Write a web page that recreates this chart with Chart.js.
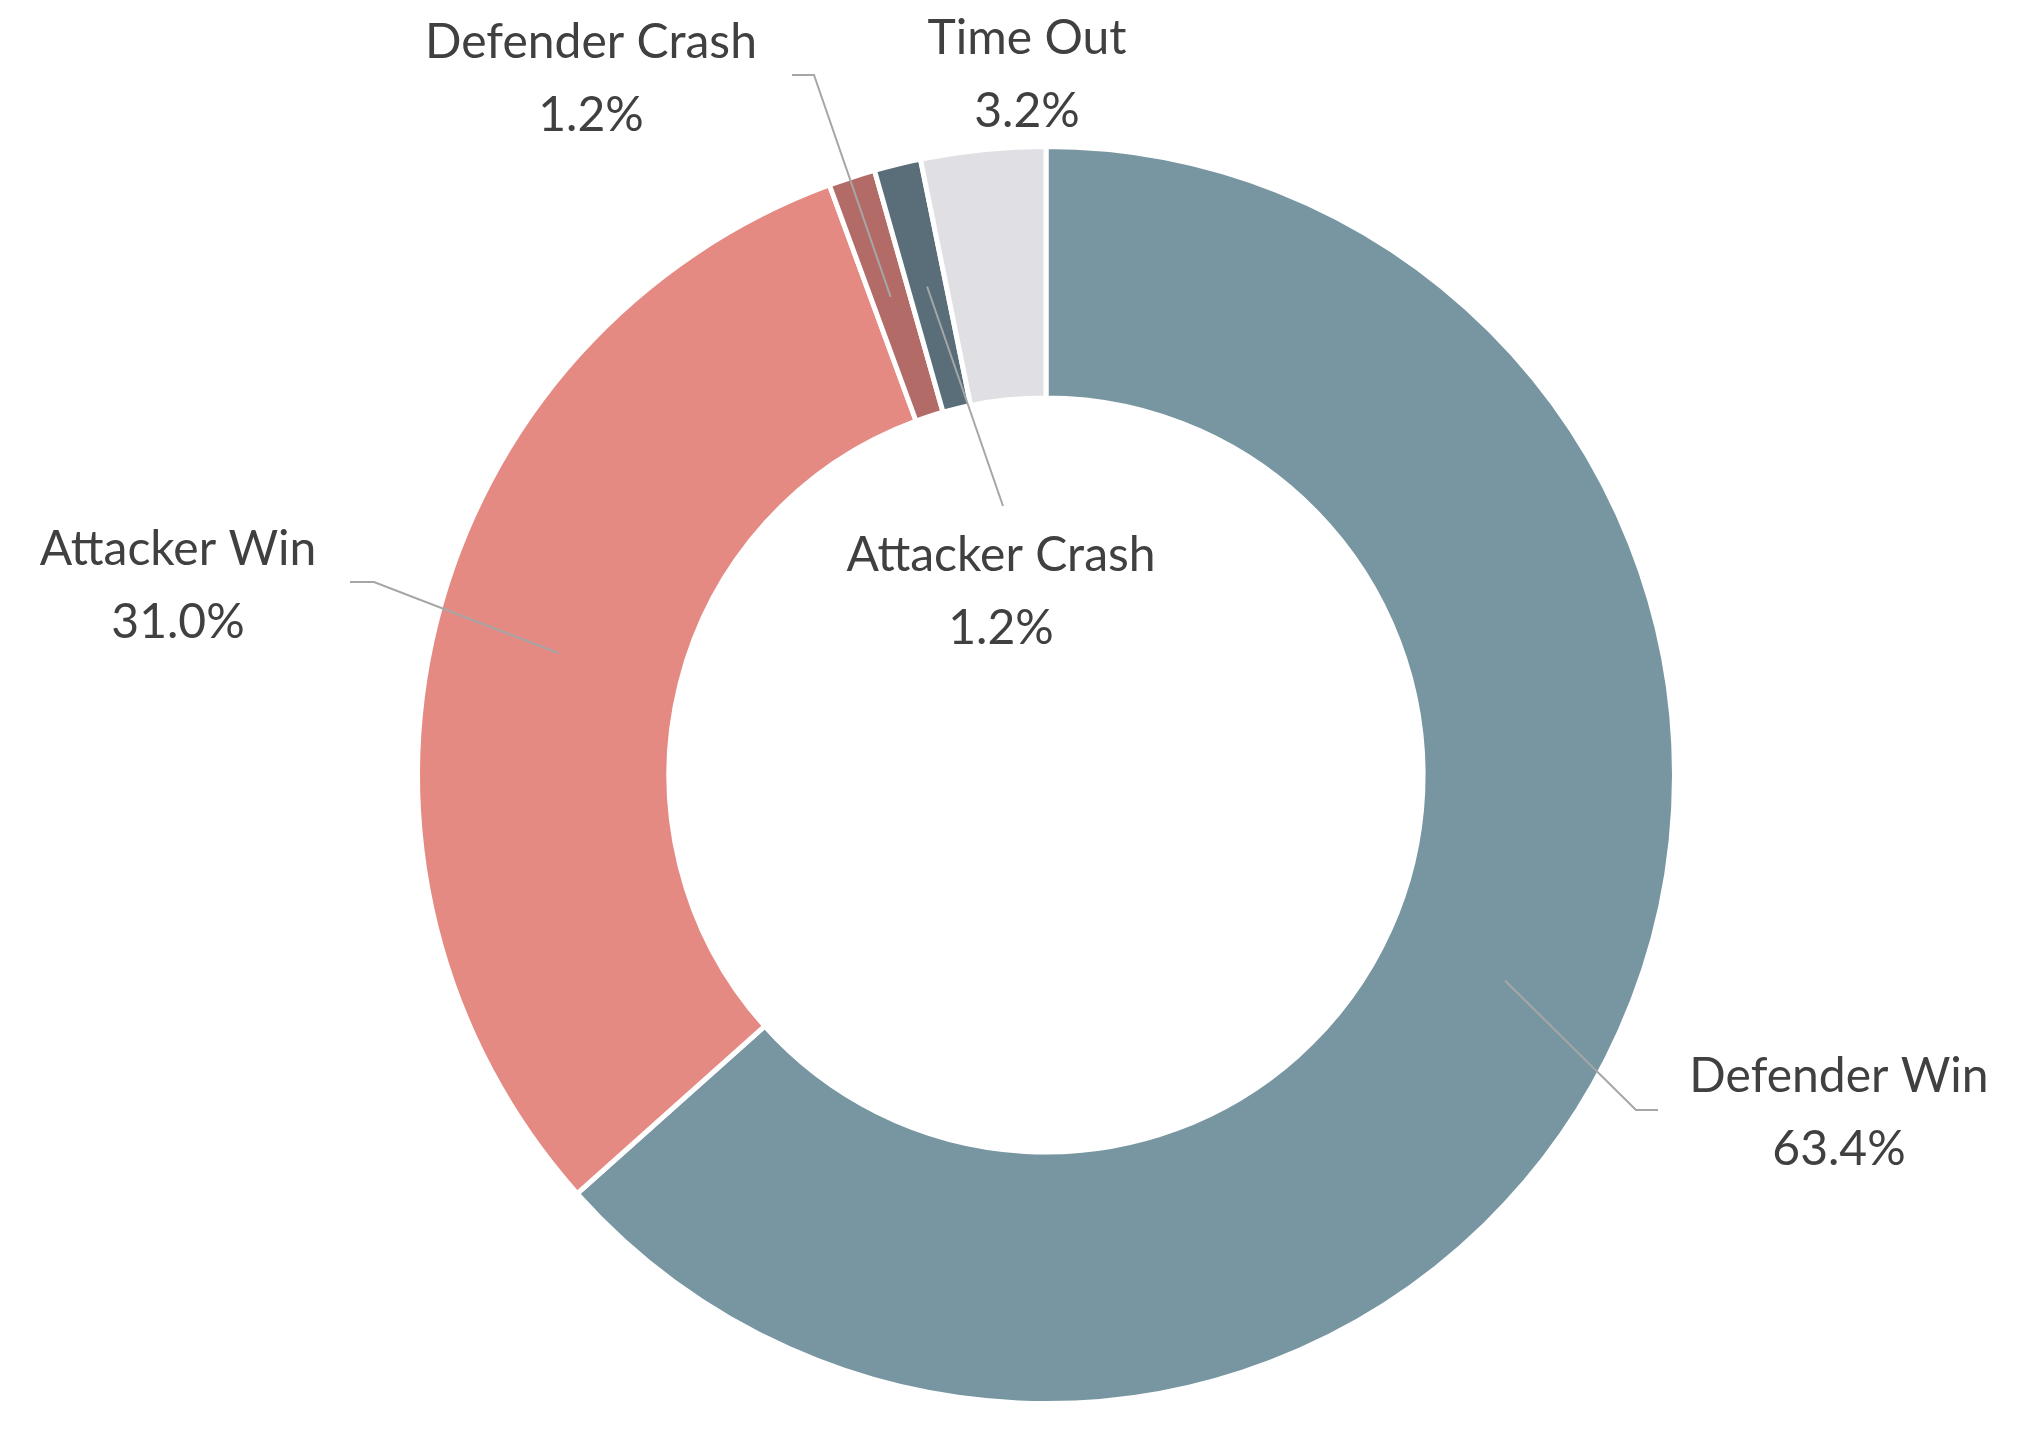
<!DOCTYPE html>
<html><head><meta charset="utf-8">
<script src="https://cdn.jsdelivr.net/npm/chart.js@4/dist/chart.umd.min.js"></script>
<style>html,body{margin:0;padding:0;background:#fff}#w{width:2020px;height:1432px}</style>
</head><body><div id="w"><canvas id="c"></canvas></div>
<script>
const categories=["Defender Win","Attacker Win","Defender Crash","Attacker Crash","Time Out"];
const values=[63.4,31.0,1.2,1.2,3.2];
const colors=["#7896a1","#e48a83","#b36b68","#5a6e7a","#e0dfe4"];
// label text centres and leader elbows (layout only)
const labelPos=[[1839,1077],[178,550],[591,43],[1001,556],[1027,39]];
const leaders=[[[1658,1110],[1636,1110]],[[350,582],[374,582]],[[792,75],[814,75]],[[1003,506]],[]];
const labelPlugin={id:'lbl',afterDatasetsDraw(chart){
  const ctx=chart.ctx;const arcs=chart.getDatasetMeta(0).data;
  ctx.save();
  arcs.forEach((a,i)=>{
    const p=a.tooltipPosition();
    const L=leaders[i];
    if(L.length){ctx.strokeStyle='#a6a6a6';ctx.lineWidth=2;ctx.beginPath();
      ctx.moveTo(L[0][0],L[0][1]);for(let k=1;k<L.length;k++)ctx.lineTo(L[k][0],L[k][1]);
      ctx.lineTo(p.x,p.y);ctx.stroke();}
    ctx.fillStyle='#404040';ctx.font='48px Lato';ctx.textAlign='center';ctx.textBaseline='middle';
    ctx.fillText(categories[i],labelPos[i][0],labelPos[i][1]);
    ctx.fillText(values[i].toFixed(1)+'%',labelPos[i][0],labelPos[i][1]+73);
  });
  ctx.restore();}};
new Chart(document.getElementById('c'),{type:'doughnut',
 data:{labels:categories,datasets:[{data:values,backgroundColor:colors,borderColor:'#fff',borderWidth:5}]},
 options:{responsive:true,maintainAspectRatio:false,animation:false,cutout:'60%',
  layout:{padding:{left:415,right:343,top:144,bottom:26}},
  plugins:{legend:{display:false},tooltip:{enabled:false}}},
 plugins:[labelPlugin]});
</script></body></html>
